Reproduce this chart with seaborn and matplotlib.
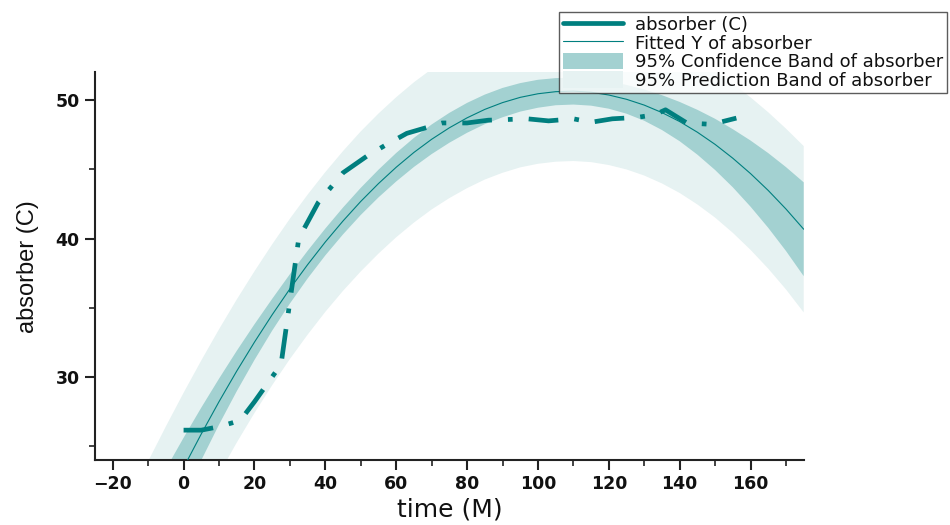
import matplotlib
matplotlib.use("Agg")
import matplotlib.pyplot as plt
import seaborn as sns
import numpy as np
from matplotlib.lines import Line2D
from matplotlib.patches import Patch
from matplotlib.ticker import MultipleLocator

# ---- measured data (absorber temperature vs time) ----
time_m = [0, 5, 10, 16, 20, 27.5, 32.5, 38, 45, 52, 57, 63, 73, 80, 86, 97,
          103, 110, 115, 121, 128, 133, 136, 142, 149, 156]
absorber = [26.15, 26.15, 26.4, 26.85, 28.2, 30.9, 40.0, 42.6, 44.75, 46.0,
            46.75, 47.6, 48.35, 48.35, 48.55, 48.65, 48.5, 48.65, 48.4, 48.65,
            48.75, 48.95, 49.3, 48.35, 48.25, 48.7]

# ---- fitted curve and band half-widths, read at every 5 M ----
fit_x = [-25, -20, -15, -10, -5, 0, 5, 10, 15, 20, 25, 30, 35, 40, 45, 50,
         55, 60, 65, 70, 75, 80, 85, 90, 95, 100, 105, 110, 115, 120, 125,
         130, 135, 140, 145, 150, 155, 160, 165, 170, 175]
fit_y = [9.53, 12.54, 15.44, 18.22, 20.89, 23.44, 25.88, 28.21, 30.42, 32.51,
         34.49, 36.36, 38.11, 39.75, 41.27, 42.68, 43.97, 45.15, 46.22, 47.17,
         48.00, 48.72, 49.33, 49.82, 50.20, 50.46, 50.61, 50.65, 50.57, 50.37,
         50.06, 49.64, 49.10, 48.45, 47.68, 46.80, 45.80, 44.69, 43.47, 42.13,
         40.67]
conf_half = [3.85, 3.47, 3.10, 2.77, 2.45, 2.16, 1.90, 1.66, 1.46, 1.29, 1.15,
             1.06, 1.00, 0.97, 0.97, 0.98, 1.00, 1.03, 1.05, 1.07, 1.08, 1.08,
             1.07, 1.06, 1.03, 1.01, 0.98, 0.97, 0.97, 0.99, 1.04, 1.13, 1.26,
             1.42, 1.62, 1.85, 2.10, 2.39, 2.70, 3.03, 3.39]
pred_half = [6.28, 6.05, 5.85, 5.68, 5.53, 5.41, 5.31, 5.23, 5.17, 5.12, 5.09,
             5.07, 5.06, 5.05, 5.05, 5.06, 5.06, 5.06, 5.07, 5.07, 5.08, 5.08,
             5.07, 5.07, 5.06, 5.06, 5.06, 5.05, 5.05, 5.06, 5.07, 5.09, 5.12,
             5.16, 5.22, 5.29, 5.39, 5.51, 5.65, 5.81, 6.01]

x_ticks = [-20, 0, 20, 40, 60, 80, 100, 120, 140, 160]
y_ticks = [30, 40, 50]
legend_labels = ["absorber (C)", "Fitted Y of absorber",
                 "95% Confidence Band of absorber",
                 "95% Prediction Band of absorber"]

TEAL = "#007f7f"
CONF = "#a3d1d1"
PRED = "#e6f2f2"

sns.set_style("ticks")
plt.rcParams["font.family"] = ["DejaVu Sans"]

fig = plt.figure(figsize=(9.5, 5.25), dpi=100)
ax = fig.add_axes([0.100, 0.124, 0.746, 0.738])

fx = np.array(fit_x, dtype=float)
fy = np.array(fit_y)
ch = np.array(conf_half)
ph = np.array(pred_half)

ax.fill_between(fx, fy - ph, fy + ph, color=PRED, linewidth=0, zorder=1)
ax.fill_between(fx, fy - ch, fy + ch, color=CONF, linewidth=0, zorder=2)

sns.lineplot(x=fit_x, y=fit_y, ax=ax, color=TEAL, linewidth=0.8,
             sort=False, estimator=None, zorder=3)
sns.lineplot(x=time_m, y=absorber, ax=ax, color=TEAL, linewidth=3.4,
             sort=False, estimator=None, zorder=4,
             linestyle=(0, (6.3, 3.4, 1.0, 3.4)))

ax.set_xlim(-25, 175)
ax.set_ylim(24.0, 52.0)
ax.set_xticks(x_ticks)
ax.set_yticks(y_ticks)
ax.xaxis.set_minor_locator(MultipleLocator(10))
ax.yaxis.set_minor_locator(MultipleLocator(5))

for s in ["top", "right"]:
    ax.spines[s].set_visible(False)
for s in ["left", "bottom"]:
    ax.spines[s].set_linewidth(1.5)
    ax.spines[s].set_color("#222222")

ax.tick_params(axis="both", which="major", direction="out", length=7,
               width=1.5, color="#222222", pad=4)
ax.tick_params(axis="both", which="minor", direction="out", length=4,
               width=1.2, color="#222222")
for lab in ax.get_xticklabels() + ax.get_yticklabels():
    lab.set_fontfamily("DejaVu Sans")
    lab.set_fontweight("bold")
    lab.set_fontsize(12.5)
    lab.set_color("#111111")

ax.set_xlabel("time (M)", fontsize=18, family=["DejaVu Sans"], labelpad=3,
              color="#111111")
ax.set_ylabel("absorber (C)", fontsize=17, family=["Liberation Sans"],
              labelpad=12, color="#111111")

handles = [
    Line2D([], [], color=TEAL, linewidth=3.4),
    Line2D([], [], color=TEAL, linewidth=0.8),
    Patch(facecolor=CONF, edgecolor="none"),
    Patch(facecolor=PRED, edgecolor="none"),
]
leg = fig.legend(handles, legend_labels, loc="upper right",
                 bbox_to_anchor=(947 / 950, 1 - 12 / 525),
                 bbox_transform=fig.transFigure, fontsize=13,
                 frameon=True, fancybox=False, borderaxespad=0,
                 handlelength=3.3, handleheight=1.05, handletextpad=0.7,
                 labelspacing=0.0, borderpad=0.2)
leg.get_frame().set_edgecolor("#333333")
leg.get_frame().set_linewidth(1.0)
for t in leg.get_texts():
    t.set_color("#111111")

fig.savefig("out.png", dpi=100)
